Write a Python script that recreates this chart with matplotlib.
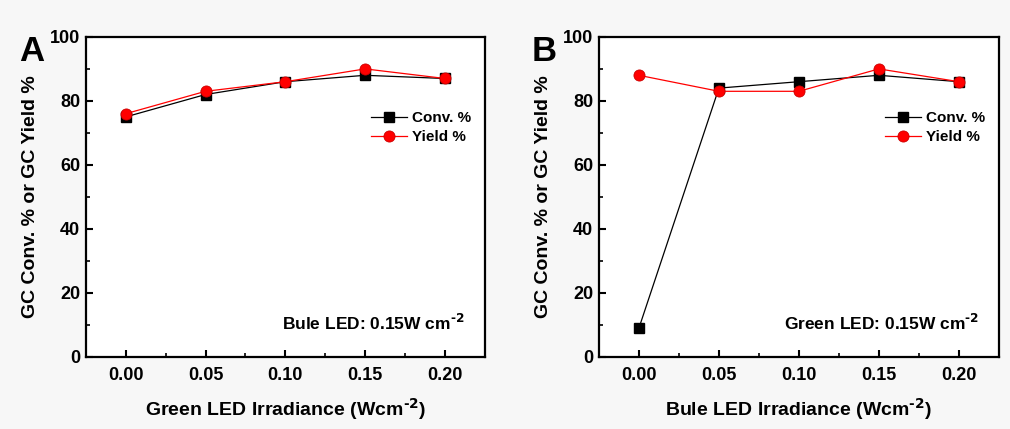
import numpy as np
import matplotlib.pyplot as plt
from matplotlib.ticker import MultipleLocator

plt.rcParams['font.family'] = ['Liberation Sans', 'DejaVu Sans']
plt.rcParams['font.weight'] = 'bold'
plt.rcParams['axes.labelweight'] = 'bold'
plt.rcParams['mathtext.default'] = 'bf'

# irradiance values (Wcm-2)
irr = [0.00, 0.05, 0.10, 0.15, 0.20]

# panel A: green LED varied, blue LED fixed
conv_a = [75, 82, 86, 88, 87]
yield_a = [76, 83, 86, 90, 87]

# panel B: blue LED varied, green LED fixed
conv_b = [9, 84, 86, 88, 86]
yield_b = [88, 83, 83, 90, 86]

sup = r'$^{\text{-2}}$'
panels = [
    ('A', conv_a, yield_a, 'Green LED Irradiance (Wcm' + sup + ')', 'Bule LED: 0.15W cm' + sup),
    ('B', conv_b, yield_b, 'Bule LED Irradiance (Wcm' + sup + ')', 'Green LED: 0.15W cm' + sup),
]

fig = plt.figure(figsize=(10.1, 4.29), dpi=100, facecolor='#f7f7f7')
boxes = [[0.085, 0.168, 0.395, 0.746], [0.593, 0.168, 0.396, 0.746]]

for box, (tag, conv, yld, xlab, note) in zip(boxes, panels):
    ax = fig.add_axes(box)
    ax.set_facecolor('white')
    ax.plot(irr, conv, '-', color='black', lw=0.9, marker='s', ms=7, label='Conv. %')
    ax.plot(irr, yld, '-', color='red', lw=0.9, marker='o', ms=8,
            mfc='red', mec='#cc0000', mew=0.6, label='Yield %')
    ax.set_xlim(-0.025, 0.225)
    ax.set_ylim(0, 100)
    ax.set_xticks(irr)
    ax.set_xticklabels(['%.2f' % v for v in irr])
    ax.xaxis.set_minor_locator(MultipleLocator(0.025))
    ax.yaxis.set_major_locator(MultipleLocator(20))
    ax.yaxis.set_minor_locator(MultipleLocator(10))
    ax.tick_params(which='major', direction='in', length=5, width=1.5, labelsize=13, pad=7)
    ax.tick_params(which='minor', direction='in', length=3, width=1.2)
    ax.tick_params(axis='y', pad=4)
    for sp in ax.spines.values():
        sp.set_linewidth(1.6)
    ax.set_xlabel(xlab, fontsize=14, labelpad=9)
    ax.set_ylabel('GC Conv. % or GC Yield %', fontsize=14, labelpad=8)
    ax.text(0.95, 0.105, note, transform=ax.transAxes, ha='right', va='center', fontsize=12.5)
    ax.text(-0.168, 0.953, tag, transform=ax.transAxes, ha='left', va='center', fontsize=25)
    ax.legend(loc='upper right', bbox_to_anchor=(1.0, 0.81), frameon=False, fontsize=11,
              handlelength=2.4, handletextpad=0.3, labelspacing=0.3)

fig.savefig('out.png', dpi=100, facecolor=fig.get_facecolor())
